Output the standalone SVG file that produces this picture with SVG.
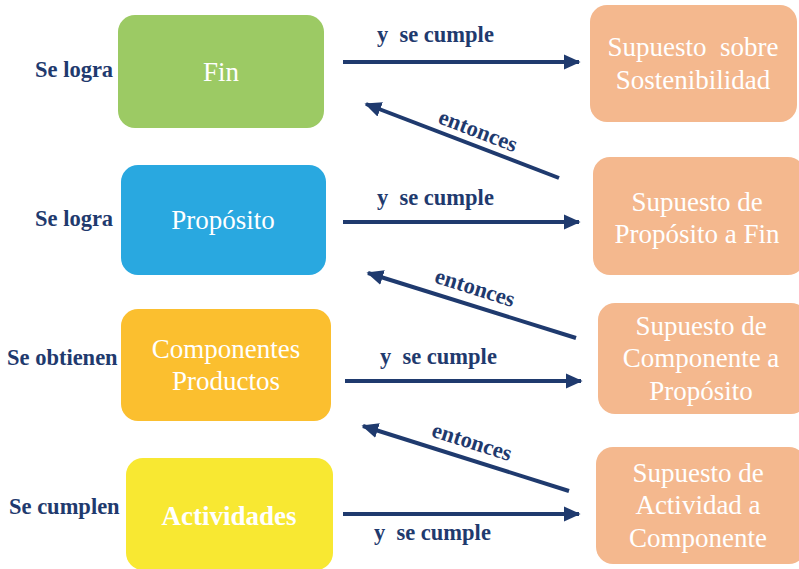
<svg xmlns="http://www.w3.org/2000/svg" width="799" height="569" viewBox="0 0 799 569">
<defs>
<marker id="ah" markerWidth="5" markerHeight="5" refX="3.8" refY="1.9" orient="auto" markerUnits="strokeWidth">
<path d="M0,0 L4.2,1.9 L0,3.8 Z" fill="#1f3a6e"/>
</marker>
<style>
.lbl{font-family:"Liberation Serif",serif;font-weight:bold;font-size:22.5px;fill:#1f3a6e}
.nt{font-family:"Liberation Serif",serif;font-size:27px;fill:#ffffff;text-anchor:middle}
.ln{stroke:#1f3a6e;stroke-width:4;fill:none;marker-end:url(#ah)}
.sup{fill:#f4b88e}
</style>
</defs>
<rect width="799" height="569" fill="#ffffff"/>
<g id="fin"><rect x="118" y="15" width="206" height="113" rx="17" fill="#9cca64"/><text class="nt" x="221" y="81">Fin</text></g>
<g id="proposito"><rect x="121" y="165" width="205" height="110" rx="17" fill="#29a8e0"/><text class="nt" x="223" y="229">Propósito</text></g>
<g id="componentes"><rect x="121" y="309" width="210" height="112" rx="17" fill="#fbbf2f"/><text class="nt" x="226" y="358">Componentes</text><text class="nt" x="226" y="390">Productos</text></g>
<g id="actividades"><rect x="126" y="458" width="207" height="112" rx="17" fill="#f8e832"/><text class="nt" x="229" y="525" font-weight="bold">Actividades</text></g>
<g id="sup1"><rect class="sup" x="590" y="5" width="207" height="117" rx="17"/><text class="nt" x="693" y="56" xml:space="preserve">Supuesto  sobre</text><text class="nt" x="693" y="89">Sostenibilidad</text></g>
<g id="sup2"><rect class="sup" x="593" y="157" width="212" height="118" rx="17"/><text class="nt" x="697" y="211">Supuesto de</text><text class="nt" x="697" y="243">Propósito a Fin</text></g>
<g id="sup3"><rect class="sup" x="598" y="303" width="210" height="111" rx="17"/><text class="nt" x="701" y="335">Supuesto de</text><text class="nt" x="701" y="367">Componente a</text><text class="nt" x="701" y="400">Propósito</text></g>
<g id="sup4"><rect class="sup" x="596" y="447" width="210" height="117" rx="17"/><text class="nt" x="698" y="482">Supuesto de</text><text class="nt" x="698" y="514">Actividad a</text><text class="nt" x="698" y="547">Componente</text></g>
<g id="left-labels">
<text class="lbl" x="35" y="77">Se logra</text>
<text class="lbl" x="35" y="226">Se logra</text>
<text class="lbl" x="7" y="365">Se obtienen</text>
<text class="lbl" x="9" y="514">Se cumplen</text>
</g>
<g id="connectors">
<line class="ln" x1="343" y1="62" x2="579" y2="62"/>
<line class="ln" x1="559" y1="178" x2="366" y2="104"/>
<line class="ln" x1="343" y1="222" x2="579" y2="222"/>
<line class="ln" x1="576" y1="338" x2="368" y2="273"/>
<line class="ln" x1="345" y1="381" x2="581" y2="381"/>
<line class="ln" x1="569" y1="491" x2="363" y2="426"/>
<line class="ln" x1="343" y1="514" x2="579" y2="514"/>
<g class="lbl">
<text x="377" y="42" xml:space="preserve">y  se cumple</text>
<text x="377" y="205" xml:space="preserve">y  se cumple</text>
<text x="380" y="364" xml:space="preserve">y  se cumple</text>
<text x="374" y="540" xml:space="preserve">y  se cumple</text>
<text x="478" y="138" text-anchor="middle" transform="rotate(21 478 131)">entonces</text>
<text x="475" y="295" text-anchor="middle" transform="rotate(17.5 475 288)">entonces</text>
<text x="472" y="449" text-anchor="middle" transform="rotate(17.7 472 442)">entonces</text>
</g>
</g>
</svg>
